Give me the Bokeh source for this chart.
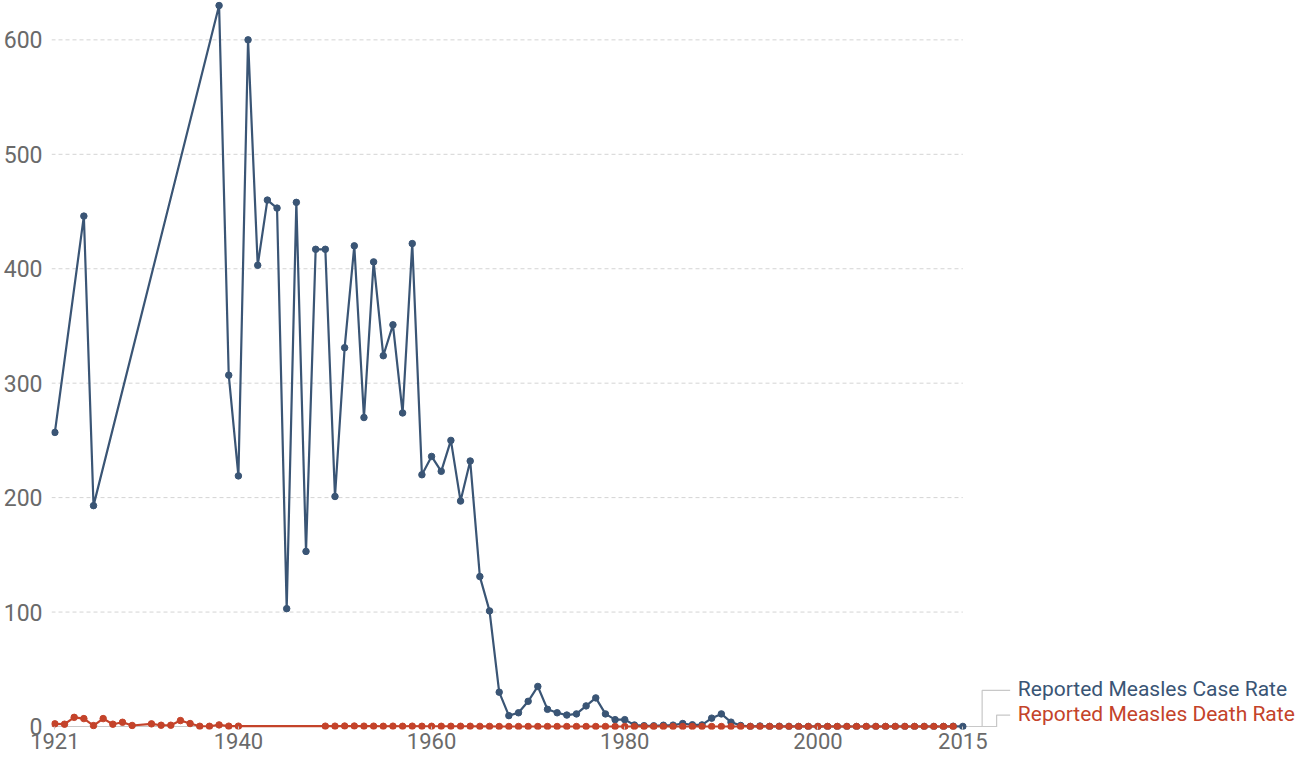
from bokeh.plotting import figure
from bokeh.models import Range1d, FixedTicker, ColumnDataSource
from bokeh.core.properties import value
from bokeh.embed import file_html
from bokeh.resources import INLINE

# ---------------- data ----------------
case_years = [1921, 1924, 1925,
              1938, 1939, 1940, 1941, 1942, 1943, 1944, 1945, 1946, 1947, 1948, 1949,
              1950, 1951, 1952, 1953, 1954, 1955, 1956, 1957, 1958, 1959,
              1960, 1961, 1962, 1963, 1964, 1965, 1966, 1967, 1968, 1969,
              1970, 1971, 1972, 1973, 1974, 1975, 1976, 1977, 1978, 1979,
              1980, 1981, 1982, 1983, 1984, 1985, 1986, 1987, 1988, 1989,
              1990, 1991, 1992, 1993, 1994, 1995, 1996, 1997, 1998, 1999,
              2000, 2001, 2002, 2003, 2004, 2005, 2006, 2007, 2008, 2009,
              2010, 2011, 2012, 2013, 2014, 2015]
case_rate = [257, 446, 193,
             630, 307, 219, 600, 403, 460, 453, 103, 458, 153, 417, 417,
             201, 331, 420, 270, 406, 324, 351, 274, 422, 220,
             236, 223, 250, 197, 232, 131, 101, 30, 9.5, 12,
             22, 35, 15, 12, 10, 11, 18, 25, 11, 6,
             6, 1.3, 0.7, 0.6, 1.1, 1.2, 2.6, 1.5, 1.4, 7.3,
             11, 3.8, 0.9, 0.1, 0.4, 0.1, 0.2, 0.1, 0.04, 0.04,
             0.03, 0.04, 0.02, 0.02, 0.01, 0.02, 0.02, 0.01, 0.05, 0.02,
             0.02, 0.07, 0.02, 0.06, 0.21, 0.06]

death_years = [1921, 1922, 1923, 1924, 1925, 1926, 1927, 1928, 1929,
               1931, 1932, 1933, 1934, 1935, 1936, 1937, 1938, 1939, 1940,
               1949, 1950, 1951, 1952, 1953, 1954, 1955, 1956, 1957, 1958, 1959,
               1960, 1961, 1962, 1963, 1964, 1965, 1966, 1967, 1968, 1969,
               1970, 1971, 1972, 1973, 1974, 1975, 1976, 1977, 1978, 1979,
               1980, 1981, 1982, 1983, 1984, 1985, 1986, 1987, 1988, 1989,
               1990, 1991, 1992, 1993, 1994, 1995, 1996, 1997, 1998, 1999,
               2000, 2001, 2002, 2003, 2004, 2005, 2006, 2007, 2008, 2009,
               2010, 2011, 2012, 2013, 2014]
death_rate = [2.3, 2.0, 8.0, 6.9, 0.8, 6.9, 2.0, 3.7, 0.9,
              2.3, 1.1, 1.1, 5.2, 2.6, 0.2, 0.2, 1.4, 0.3, 0.3,
              0.3, 0.3, 0.4, 0.4, 0.3, 0.3, 0.2, 0.3, 0.2, 0.3, 0.2,
              0.2, 0.2, 0.2, 0.2, 0.2, 0.1, 0.1, 0.0, 0.0, 0.0,
              0.0, 0.0, 0.0, 0.0, 0.0, 0.0, 0.0, 0.0, 0.0, 0.0,
              0.0, 0.0, 0.0, 0.0, 0.0, 0.0, 0.0, 0.0, 0.0, 0.0,
              0.0, 0.0, 0.0, 0.0, 0.0, 0.0, 0.0, 0.0, 0.0, 0.0,
              0.0, 0.0, 0.0, 0.0, 0.0, 0.0, 0.0, 0.0, 0.0, 0.0,
              0.0, 0.0, 0.0, 0.0, 0.0]

x_ticks = [1921, 1940, 1960, 1980, 2000, 2015]
y_ticks = [0, 100, 200, 300, 400, 500, 600]
series_names = ["Reported Measles Case Rate", "Reported Measles Death Rate"]

# ---------------- style ----------------
BLUE = "#3a5575"
RED = "#c4432a"
GRAY_TXT = "#6a6a6a"
GRID = "#d4d4d4"
AXIS = "#c8c8c8"
FONT = "Roboto"

x0, x1 = 1920.65, 2049.65
p = figure(width=1297, height=759, output_backend="svg", toolbar_location=None,
           x_range=Range1d(x0, x1), y_range=Range1d(-2.62, 634.4),
           min_border_left=40, min_border_right=0, min_border_top=0,
           min_border_bottom=30)
p.outline_line_color = None
p.xgrid.visible = False
p.ygrid.visible = False

# x axis
p.xaxis.ticker = FixedTicker(ticks=x_ticks)
p.xaxis.axis_line_color = None
p.xaxis.major_tick_line_color = AXIS
p.xaxis.major_tick_in = 3
p.xaxis.major_tick_out = 0
p.xaxis.minor_tick_line_color = None
p.xaxis.major_label_standoff = 3
p.xaxis.major_label_text_font = FONT
p.xaxis.major_label_text_font_size = "22px"
p.xaxis.major_label_text_color = GRAY_TXT

# y axis
p.yaxis.ticker = FixedTicker(ticks=y_ticks)
p.yaxis.axis_line_color = None
p.yaxis.major_tick_line_color = None
p.yaxis.minor_tick_line_color = None
p.yaxis.major_label_standoff = 3
p.yaxis.major_label_text_font = FONT
p.yaxis.major_label_text_font_size = "23px"
p.yaxis.major_label_text_color = GRAY_TXT

last = case_years[-1]
grid_vals = [v for v in y_ticks if v > 0]
p.segment(x0=[x0] * len(grid_vals), x1=[last] * len(grid_vals), y0=grid_vals, y1=grid_vals,
          line_color=GRID, line_width=1, line_dash="4 3")
# axis base line
p.segment(x0=[x0], x1=[last + 0.6], y0=[0], y1=[0], line_color=AXIS, line_width=1.2)

# series
p.line(case_years, case_rate, line_color=BLUE, line_width=2.2)
p.scatter(case_years, case_rate, size=6.5, fill_color=BLUE, line_color=BLUE)
p.line(death_years, death_rate, line_color=RED, line_width=2.2)
p.scatter(death_years, death_rate, size=6.5, fill_color=RED, line_color=RED)

# label connectors
case_lab_y, death_lab_y = 31.5, 10.0
p.line([last + 0.6, last + 3.55], [0, 0], line_color=AXIS, line_width=1.2)
p.line([last + 2.0, last + 2.0, last + 4.9], [0, case_lab_y, case_lab_y], line_color=AXIS, line_width=1.2)
p.line([last + 3.5, last + 3.5, last + 4.9], [0, death_lab_y, death_lab_y], line_color=AXIS, line_width=1.2)

src = ColumnDataSource(dict(x=[last + 5.7, last + 5.7], y=[case_lab_y + 1.0, death_lab_y + 0.5],
                            t=series_names, c=[BLUE, RED]))
p.text(x="x", y="y", text="t", text_color="c", source=src, text_baseline="middle",
       text_align="left", text_font=value(FONT), text_font_size=value("21px"))

open("out.html", "w").write(file_html(p, INLINE))
